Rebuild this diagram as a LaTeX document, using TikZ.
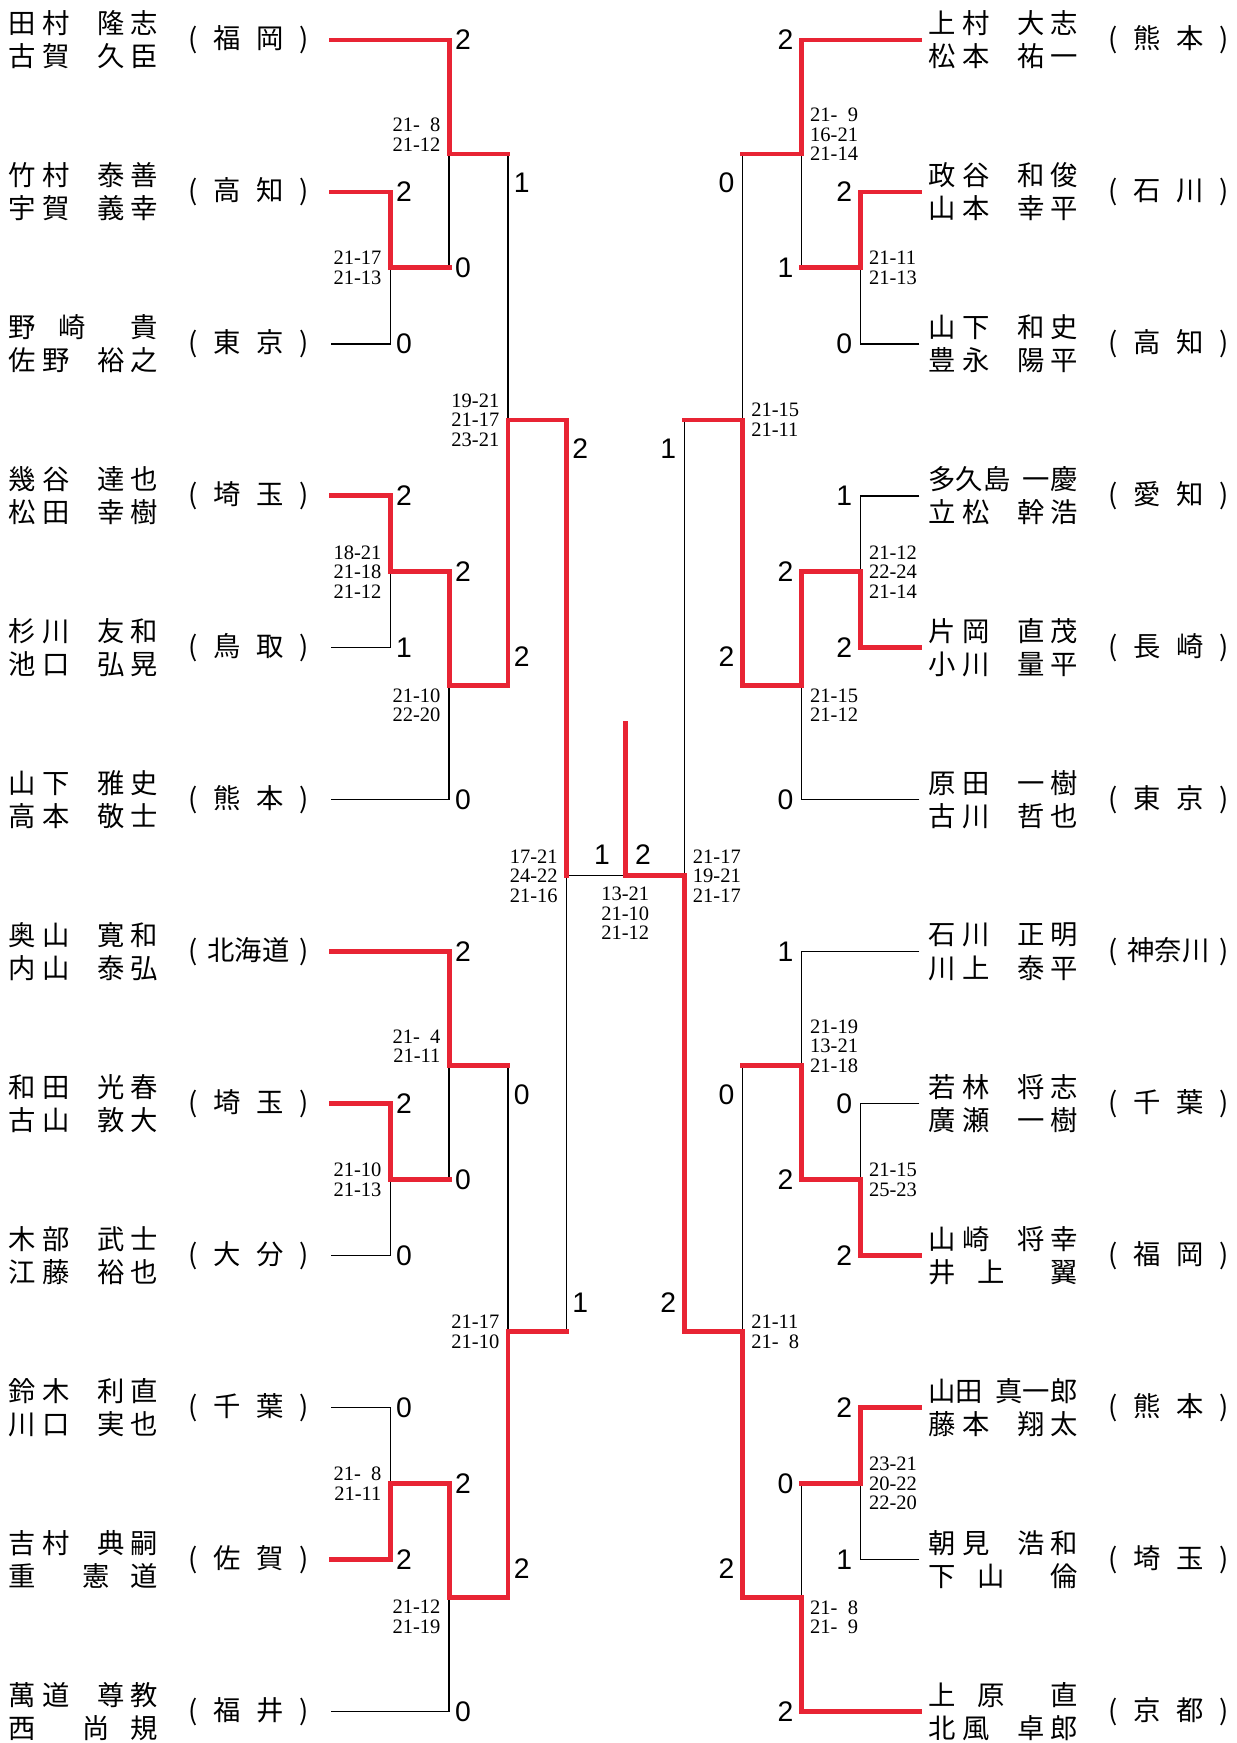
\documentclass[tikz,border=0pt]{standalone}
\usepackage{fontspec}
\setmainfont{Liberation Serif}
\newfontfamily\jpfont{Noto Sans CJK JP}
\newfontfamily\sujifont{Liberation Sans}
\usetikzlibrary{positioning}
\definecolor{akasen}{RGB}{232,36,52}
\newlength\bpx
\setlength\bpx{0.02cm}
% sei + mei in two boxes, ken in brackets
\newcommand\mei[4]{\hbox to 55\bpx{#1\hfill#2\hss}\kern25\bpx\hbox to 54\bpx{\hss#3\hfill#4}}
\newcommand\ken[1]{\hbox to 108\bpx{(#1)}}
\tikzset{
  kachisen/.style={akasen,line width=2.5pt,line cap=rect},
  makesen/.style={black,line width=0.65pt},
  senshu/.style={inner sep=0pt,align=left,font=\jpfont\fontsize{14}{17}\selectfont},
  kenmei/.style={inner sep=0pt,font=\jpfont\fontsize{14}{17}\selectfont},
  tokuten/.style={inner sep=0pt,font=\sujifont\fontsize{14.5}{14}\selectfont},
  tokutenL/.style={tokuten,anchor=west,xshift=0.1cm},
  tokutenR/.style={tokuten,anchor=east,xshift=-0.14cm},
  ueten/.style={yshift=0.52cm},
  shitaten/.style={yshift=-0.52cm},
  shiai/.style={inner sep=0pt,font=\fontsize{10.5}{10}\selectfont},
  shiaiL/.style={shiai,anchor=east,align=right,xshift=-0.15cm},
  shiaiR/.style={shiai,anchor=west,align=left,xshift=0.15cm},
  ue/.style={yshift=0.35cm},
  shita/.style={yshift=-0.35cm},
}

\begin{document}
\begin{tikzpicture}[x=0.02cm,y=-0.02cm]
\useasboundingbox (0,0) rectangle (1112,1568);

% team lines
\foreach \i in {1,...,12} {
  \coordinate (L\i) at (298,{36+(\i-1)*136.7});
  \coordinate (R\i) at (827,{36+(\i-1)*136.7});
}
% left matches
\coordinate (mLa1) at (351,241);
\coordinate (mLb1) at (404,138.5);
\coordinate (mLa2) at (351,514.5);
\coordinate (mLb2) at (404,617);
\coordinate (mLc1) at (457,377.8);
\coordinate (mLa3) at (351,1061.3);
\coordinate (mLb3) at (404,958.7);
\coordinate (mLa4) at (351,1334.7);
\coordinate (mLb4) at (404,1437.2);
\coordinate (mLc2) at (457,1198);
\coordinate (mLd) at (509.5,787.9);
% right matches
\coordinate (mRa1) at (774,241);
\coordinate (mRb1) at (721,138.5);
\coordinate (mRa2) at (774,514.5);
\coordinate (mRb2) at (721,617);
\coordinate (mRc1) at (668,377.8);
\coordinate (mRa3) at (774,1061.3);
\coordinate (mRb3) at (721,958.7);
\coordinate (mRa4) at (774,1334.7);
\coordinate (mRb4) at (721,1437.2);
\coordinate (mRc2) at (668,1198);
\coordinate (mRd) at (615.5,787.9);
% final
\coordinate (fin) at (562.5,787.9);
\coordinate (top) at (562.5,651);

% players, left
\node[kenmei,left=0.4cm of L1] (kL1) {\ken{\hfill 福\hfill 岡\hfill}};
\node[senshu,left=0.54cm of kL1] (nL1) {\mei{田}{村}{隆}{志}\\\mei{古}{賀}{久}{臣}};
\node[kenmei,left=0.4cm of L2] (kL2) {\ken{\hfill 高\hfill 知\hfill}};
\node[senshu,left=0.54cm of kL2] (nL2) {\mei{竹}{村}{泰}{善}\\\mei{宇}{賀}{義}{幸}};
\node[kenmei,left=0.4cm of L3] (kL3) {\ken{\hfill 東\hfill 京\hfill}};
\node[senshu,left=0.54cm of kL3] (nL3) {\mei{野}{崎\kern-14\bpx}{}{貴}\\\mei{佐}{野}{裕}{之}};
\node[kenmei,left=0.4cm of L4] (kL4) {\ken{\hfill 埼\hfill 玉\hfill}};
\node[senshu,left=0.54cm of kL4] (nL4) {\mei{幾}{谷}{達}{也}\\\mei{松}{田}{幸}{樹}};
\node[kenmei,left=0.4cm of L5] (kL5) {\ken{\hfill 鳥\hfill 取\hfill}};
\node[senshu,left=0.54cm of kL5] (nL5) {\mei{杉}{川}{友}{和}\\\mei{池}{口}{弘}{晃}};
\node[kenmei,left=0.4cm of L6] (kL6) {\ken{\hfill 熊\hfill 本\hfill}};
\node[senshu,left=0.54cm of kL6] (nL6) {\mei{山}{下}{雅}{史}\\\mei{高}{本}{敬}{士}};
\node[kenmei,left=0.4cm of L7] (kL7) {\ken{\hfill 北海道\hfill}};
\node[senshu,left=0.54cm of kL7] (nL7) {\mei{奥}{山}{寛}{和}\\\mei{内}{山}{泰}{弘}};
\node[kenmei,left=0.4cm of L8] (kL8) {\ken{\hfill 埼\hfill 玉\hfill}};
\node[senshu,left=0.54cm of kL8] (nL8) {\mei{和}{田}{光}{春}\\\mei{古}{山}{敦}{大}};
\node[kenmei,left=0.4cm of L9] (kL9) {\ken{\hfill 大\hfill 分\hfill}};
\node[senshu,left=0.54cm of kL9] (nL9) {\mei{木}{部}{武}{士}\\\mei{江}{藤}{裕}{也}};
\node[kenmei,left=0.4cm of L10] (kL10) {\ken{\hfill 千\hfill 葉\hfill}};
\node[senshu,left=0.54cm of kL10] (nL10) {\mei{鈴}{木}{利}{直}\\\mei{川}{口}{実}{也}};
\node[kenmei,left=0.4cm of L11] (kL11) {\ken{\hfill 佐\hfill 賀\hfill}};
\node[senshu,left=0.54cm of kL11] (nL11) {\mei{吉}{村}{典}{嗣}\\\mei{重}{}{\kern-14\bpx 憲}{道}};
\node[kenmei,left=0.4cm of L12] (kL12) {\ken{\hfill 福\hfill 井\hfill}};
\node[senshu,left=0.54cm of kL12] (nL12) {\mei{萬}{道}{尊}{教}\\\mei{西}{}{\kern-14\bpx 尚}{規}};

% players, right
\node[senshu,right=0.16cm of R1] (nR1) {\mei{上}{村}{大}{志}\\\mei{松}{本}{祐}{一}};
\node[kenmei,right=0.54cm of nR1] (kR1) {\ken{\hfill 熊\hfill 本\hfill}};
\node[senshu,right=0.16cm of R2] (nR2) {\mei{政}{谷}{和}{俊}\\\mei{山}{本}{幸}{平}};
\node[kenmei,right=0.54cm of nR2] (kR2) {\ken{\hfill 石\hfill 川\hfill}};
\node[senshu,right=0.16cm of R3] (nR3) {\mei{山}{下}{和}{史}\\\mei{豊}{永}{陽}{平}};
\node[kenmei,right=0.54cm of nR3] (kR3) {\ken{\hfill 高\hfill 知\hfill}};
\node[senshu,right=0.16cm of R4] (nR4) {\mei{多久島}{}{}{一慶}\\\mei{立}{松}{幹}{浩}};
\node[kenmei,right=0.54cm of nR4] (kR4) {\ken{\hfill 愛\hfill 知\hfill}};
\node[senshu,right=0.16cm of R5] (nR5) {\mei{片}{岡}{直}{茂}\\\mei{小}{川}{量}{平}};
\node[kenmei,right=0.54cm of nR5] (kR5) {\ken{\hfill 長\hfill 崎\hfill}};
\node[senshu,right=0.16cm of R6] (nR6) {\mei{原}{田}{一}{樹}\\\mei{古}{川}{哲}{也}};
\node[kenmei,right=0.54cm of nR6] (kR6) {\ken{\hfill 東\hfill 京\hfill}};
\node[senshu,right=0.16cm of R7] (nR7) {\mei{石}{川}{正}{明}\\\mei{川}{上}{泰}{平}};
\node[kenmei,right=0.54cm of nR7] (kR7) {\ken{\hfill 神奈川\hfill}};
\node[senshu,right=0.16cm of R8] (nR8) {\mei{若}{林}{将}{志}\\\mei{廣}{瀬}{一}{樹}};
\node[kenmei,right=0.54cm of nR8] (kR8) {\ken{\hfill 千\hfill 葉\hfill}};
\node[senshu,right=0.16cm of R9] (nR9) {\mei{山}{崎}{将}{幸}\\\mei{井}{上\kern-14\bpx}{}{翼}};
\node[kenmei,right=0.54cm of nR9] (kR9) {\ken{\hfill 福\hfill 岡\hfill}};
\node[senshu,right=0.16cm of R10] (nR10) {\mei{山田}{}{}{真一郎}\\\mei{藤}{本}{翔}{太}};
\node[kenmei,right=0.54cm of nR10] (kR10) {\ken{\hfill 熊\hfill 本\hfill}};
\node[senshu,right=0.16cm of R11] (nR11) {\mei{朝}{見}{浩}{和}\\\mei{下}{山\kern-14\bpx}{}{倫}};
\node[kenmei,right=0.54cm of nR11] (kR11) {\ken{\hfill 埼\hfill 玉\hfill}};
\node[senshu,right=0.16cm of R12] (nR12) {\mei{上}{原\kern-14\bpx}{}{直}\\\mei{北}{風}{卓}{郎}};
\node[kenmei,right=0.54cm of nR12] (kR12) {\ken{\hfill 京\hfill 都\hfill}};

% losers' lines
\draw[makesen] (L3) -| (mLa1);
\draw[makesen] (L5) -| (mLa2);
\draw[makesen] (L6) -| (mLb2);
\draw[makesen] (L9) -| (mLa3);
\draw[makesen] (L10) -| (mLa4);
\draw[makesen] (L12) -| (mLb4);
\draw[makesen] (mLa1 -| mLb1) -- (mLb1);
\draw[makesen] (mLb1 -| mLc1) -- (mLc1);
\draw[makesen] (mLa3 -| mLb3) -- (mLb3);
\draw[makesen] (mLb3 -| mLc2) -- (mLc2);
\draw[makesen] (mLc2 -| mLd) -- (mLd) -- (fin);
\draw[makesen] (R3) -| (mRa1);
\draw[makesen] (R4) -| (mRa2);
\draw[makesen] (R6) -| (mRb2);
\draw[makesen] (R7) -| (mRb3);
\draw[makesen] (R8) -| (mRa3);
\draw[makesen] (R11) -| (mRa4);
\draw[makesen] (mRa1 -| mRb1) -- (mRb1);
\draw[makesen] (mRb1 -| mRc1) -- (mRc1);
\draw[makesen] (mRc1 -| mRd) -- (mRd);
\draw[makesen] (mRb3 -| mRc2) -- (mRc2);
\draw[makesen] (mRa4 -| mRb4) -- (mRb4);

% winners' lines
\draw[kachisen] (L1) -| (mLb1) -- (mLb1 -| mLc1);
\draw[kachisen] (L2) -| (mLa1) -- (mLa1 -| mLb1);
\draw[kachisen] (L4) -| (mLa2) -| (mLb2) -| (mLc1) -| (mLd);
\draw[kachisen] (L7) -| (mLb3) -- (mLb3 -| mLc2);
\draw[kachisen] (L8) -| (mLa3) -- (mLa3 -| mLb3);
\draw[kachisen] (L11) -| (mLa4) -| (mLb4) -| (mLc2) -- (mLc2 -| mLd);
\draw[kachisen] (R1) -| (mRb1) -- (mRb1 -| mRc1);
\draw[kachisen] (R2) -| (mRa1) -- (mRa1 -| mRb1);
\draw[kachisen] (R5) -| (mRa2) -| (mRb2) -| (mRc1) -- (mRc1 -| mRd);
\draw[kachisen] (R9) -| (mRa3) -| (mRb3) -- (mRb3 -| mRc2);
\draw[kachisen] (R10) -| (mRa4) -- (mRa4 -| mRb4);
\draw[kachisen] (R12) -| (mRb4) -| (mRc2) -| (mRd) -- (fin) -- (top);

% points, left
\node[tokutenL] (sL2) at (L2 -| mLa1) {2};
\node[tokutenL] (sL3) at (L3 -| mLa1) {0};
\node[tokutenL] (sL4) at (L4 -| mLa2) {2};
\node[tokutenL] (sL5) at (L5 -| mLa2) {1};
\node[tokutenL] (sL8) at (L8 -| mLa3) {2};
\node[tokutenL] (sL9) at (L9 -| mLa3) {0};
\node[tokutenL] (sL10) at (L10 -| mLa4) {0};
\node[tokutenL] (sL11) at (L11 -| mLa4) {2};
\node[tokutenL] (sL1) at (L1 -| mLb1) {2};
\node[tokutenL] (sLa1) at (mLa1 -| mLb1) {0};
\node[tokutenL] (sLa2) at (mLa2 -| mLb2) {2};
\node[tokutenL] (sL6) at (L6 -| mLb2) {0};
\node[tokutenL] (sL7) at (L7 -| mLb3) {2};
\node[tokutenL] (sLa3) at (mLa3 -| mLb3) {0};
\node[tokutenL] (sLa4) at (mLa4 -| mLb4) {2};
\node[tokutenL] (sL12) at (L12 -| mLb4) {0};
\node[tokutenL,shitaten] (sLb1) at (mLb1 -| mLc1) {1};
\node[tokutenL,ueten] (sLb2) at (mLb2 -| mLc1) {2};
\node[tokutenL,shitaten] (sLb3) at (mLb3 -| mLc2) {0};
\node[tokutenL,ueten] (sLb4) at (mLb4 -| mLc2) {2};
\node[tokutenL,shitaten] (sLc1) at (mLc1 -| mLd) {2};
\node[tokutenL,ueten] (sLc2) at (mLc2 -| mLd) {1};
% points, right
\node[tokutenR] (sR2) at (R2 -| mRa1) {2};
\node[tokutenR] (sR3) at (R3 -| mRa1) {0};
\node[tokutenR] (sR4) at (R4 -| mRa2) {1};
\node[tokutenR] (sR5) at (R5 -| mRa2) {2};
\node[tokutenR] (sR8) at (R8 -| mRa3) {0};
\node[tokutenR] (sR9) at (R9 -| mRa3) {2};
\node[tokutenR] (sR10) at (R10 -| mRa4) {2};
\node[tokutenR] (sR11) at (R11 -| mRa4) {1};
\node[tokutenR] (sR1) at (R1 -| mRb1) {2};
\node[tokutenR] (sRa1) at (mRa1 -| mRb1) {1};
\node[tokutenR] (sRa2) at (mRa2 -| mRb2) {2};
\node[tokutenR] (sR6) at (R6 -| mRb2) {0};
\node[tokutenR] (sR7) at (R7 -| mRb3) {1};
\node[tokutenR] (sRa3) at (mRa3 -| mRb3) {2};
\node[tokutenR] (sRa4) at (mRa4 -| mRb4) {0};
\node[tokutenR] (sR12) at (R12 -| mRb4) {2};
\node[tokutenR,shitaten] (sRb1) at (mRb1 -| mRc1) {0};
\node[tokutenR,ueten] (sRb2) at (mRb2 -| mRc1) {2};
\node[tokutenR,shitaten] (sRb3) at (mRb3 -| mRc2) {0};
\node[tokutenR,ueten] (sRb4) at (mRb4 -| mRc2) {2};
\node[tokutenR,shitaten] (sRc1) at (mRc1 -| mRd) {1};
\node[tokutenR,ueten] (sRc2) at (mRc2 -| mRd) {2};
% final
\node[tokuten,anchor=east,xshift=-0.27cm,yshift=0.38cm] (sLd) at (fin) {1};
\node[tokuten,anchor=west,xshift=0.17cm,yshift=0.38cm] (sRd) at (fin) {2};

% game scores
\node[shiaiL,ue] (gLb1) at (mLb1) {21-\hphantom{0}8\\21-12};
\node[shiaiL] (gLa1) at (mLa1) {21-17\\21-13};
\node[shiaiL] (gLc1) at (mLc1) {19-21\\21-17\\23-21};
\node[shiaiL] (gLa2) at (mLa2) {18-21\\21-18\\21-12};
\node[shiaiL,shita] (gLb2) at (mLb2) {21-10\\22-20};
\node[shiaiL] (gLd) at (mLd) {17-21\\24-22\\21-16};
\node[shiaiL,ue] (gLb3) at (mLb3) {21-\hphantom{0}4\\21-11};
\node[shiaiL] (gLa3) at (mLa3) {21-10\\21-13};
\node[shiaiL] (gLc2) at (mLc2) {21-17\\21-10};
\node[shiaiL] (gLa4) at (mLa4) {21-\hphantom{0}8\\21-11};
\node[shiaiL,shita] (gLb4) at (mLb4) {21-12\\21-19};
\node[shiai,align=center,yshift=-0.68cm] (gF) at (fin) {13-21\\21-10\\21-12};
\node[shiaiR,ue] (gRb1) at (mRb1) {21-\hphantom{0}9\\16-21\\21-14};
\node[shiaiR] (gRa1) at (mRa1) {21-11\\21-13};
\node[shiaiR] (gRc1) at (mRc1) {21-15\\21-11};
\node[shiaiR] (gRa2) at (mRa2) {21-12\\22-24\\21-14};
\node[shiaiR,shita] (gRb2) at (mRb2) {21-15\\21-12};
\node[shiaiR] (gRd) at (mRd) {21-17\\19-21\\21-17};
\node[shiaiR,ue] (gRb3) at (mRb3) {21-19\\13-21\\21-18};
\node[shiaiR] (gRa3) at (mRa3) {21-15\\25-23};
\node[shiaiR] (gRc2) at (mRc2) {21-11\\21-\hphantom{0}8};
\node[shiaiR] (gRa4) at (mRa4) {23-21\\20-22\\22-20};
\node[shiaiR,shita] (gRb4) at (mRb4) {21-\hphantom{0}8\\21-\hphantom{0}9};
\end{tikzpicture}
\end{document}
